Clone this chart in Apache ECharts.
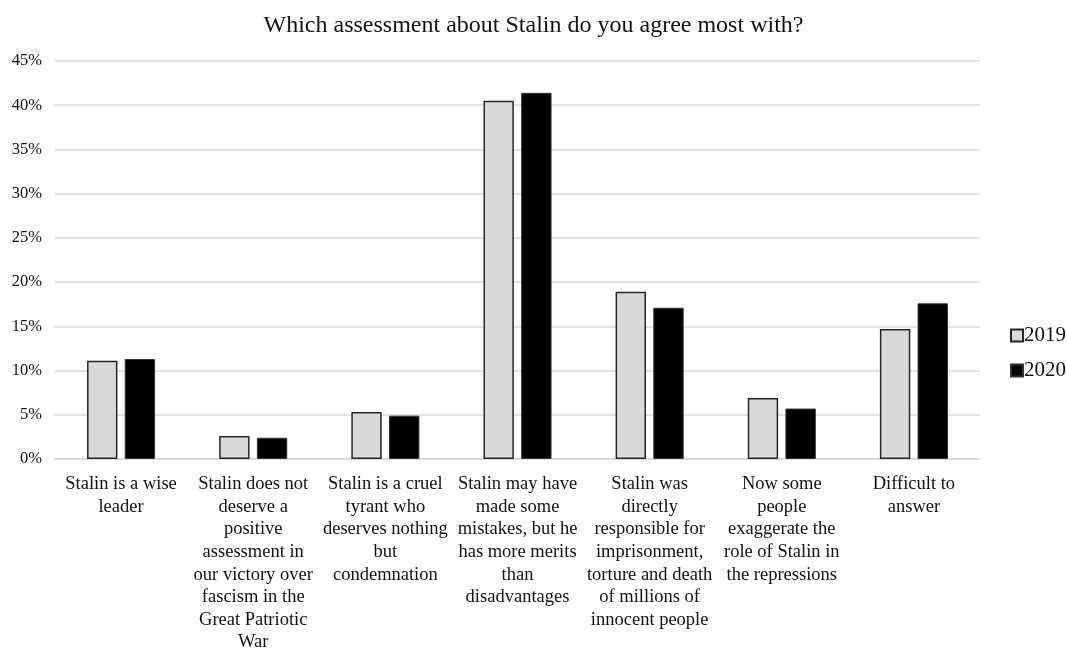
<!DOCTYPE html>
<html>
<head>
<meta charset="utf-8">
<script src="https://cdn.jsdelivr.net/npm/echarts@6/dist/echarts.min.js"></script>
<style>
  html, body { margin: 0; padding: 0; background: #fff; }
  #chart { width: 1067px; height: 648px; }
</style>
</head>
<body>
<div id="chart"></div>
<script>
// Survey answers (category labels, wrapped as displayed)
const categories = [
  'Stalin is a wise\nleader',
  'Stalin does not\ndeserve a\npositive\nassessment in\nour victory over\nfascism in the\nGreat Patriotic\nWar',
  'Stalin is a cruel\ntyrant who\ndeserves nothing\nbut\ncondemnation',
  'Stalin may have\nmade some\nmistakes, but he\nhas more merits\nthan\ndisadvantages',
  'Stalin was\ndirectly\nresponsible for\nimprisonment,\ntorture and death\nof millions of\ninnocent people',
  'Now some\npeople\nexaggerate the\nrole of Stalin in\nthe repressions',
  'Difficult to\nanswer'
];

// Share of respondents, percent
const values2019 = [11.1, 2.6, 5.3, 40.5, 18.9, 6.9, 14.7];
const values2020 = [11.3, 2.4, 4.9, 41.4, 17.1, 5.7, 17.6];

const yTicks = [0, 5, 10, 15, 20, 25, 30, 35, 40, 45];

const font = '"Liberation Serif", "Times New Roman", serif';

const chart = echarts.init(document.getElementById('chart'), null, { renderer: 'canvas' });

chart.setOption({
  backgroundColor: '#ffffff',
  animation: false,
  title: {
    text: 'Which assessment about Stalin do you agree most with?',
    left: 'center',
    top: 9,
    textStyle: { fontFamily: font, fontSize: 24, fontWeight: 'normal', color: '#111' }
  },
  legend: {
    orient: 'vertical',
    left: 1010,
    top: 325,
    padding: 0,
    itemWidth: 12,
    itemHeight: 12,
    itemGap: 14,
    icon: 'rect',
    textStyle: { fontFamily: font, fontSize: 21, color: '#111', padding: [0, 0, 0, -4] },
    data: ['2019', '2020']
  },
  grid: { left: 55, right: 87, top: 61, bottom: 189, containLabel: false, outerBoundsMode: 'none' },
  xAxis: {
    type: 'category',
    data: categories,
    axisLine: { show: true, lineStyle: { color: '#d9d9d9', width: 1.5 } },
    axisTick: { show: false },
    axisLabel: {
      interval: 0,
      margin: 14,
      fontFamily: font,
      fontSize: 18.5,
      lineHeight: 22.6,
      color: '#111',
      align: 'center'
    }
  },
  yAxis: {
    type: 'value',
    min: 0,
    max: 45,
    interval: 5,
    axisLine: { show: false },
    axisTick: { show: false },
    splitLine: { lineStyle: { color: '#d9d9d9', width: 1.5 } },
    axisLabel: {
      margin: 13,
      fontFamily: font,
      fontSize: 16.5,
      color: '#111',
      formatter: v => (yTicks.includes(v) ? v + '%' : '')
    }
  },
  series: [
    {
      name: '2019',
      type: 'bar',
      data: values2019,
      barWidth: '23%',
      barGap: '24%',
      itemStyle: { color: '#d9d9d9', borderColor: '#262626', borderWidth: 1.5 }
    },
    {
      name: '2020',
      type: 'bar',
      data: values2020,
      barWidth: '23%',
      itemStyle: { color: '#000000', borderColor: '#333333', borderWidth: 1 }
    }
  ]
});
</script>
</body>
</html>
